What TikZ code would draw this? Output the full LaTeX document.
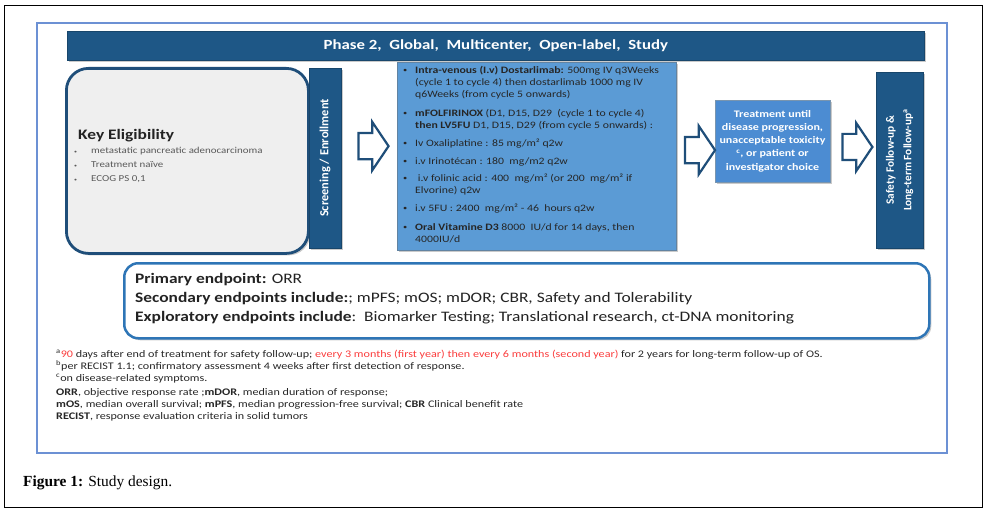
\documentclass[tikz,border=0pt]{standalone}
\usepackage{fontspec}
\setmainfont{Carlito}[FakeStretch=1.2]
\newfontfamily\plainfont{Carlito}
\newfontfamily\capfont{Liberation Serif}
\usetikzlibrary{shapes.arrows,shadows,calc}
\definecolor{dkblue}{RGB}{30,87,134}
\definecolor{frameblue}{RGB}{108,145,212}
\definecolor{midblue}{RGB}{91,155,213}
\definecolor{medblue}{RGB}{76,140,210}
\definecolor{edgeblue}{RGB}{46,117,182}
\definecolor{arrowblue}{RGB}{31,78,121}
\definecolor{ftred}{RGB}{250,60,60}
\definecolor{txtgray}{RGB}{35,35,35}
\definecolor{eliggray}{RGB}{239,239,239}
\newcommand{\bul}{\makebox[12pt][l]{\raisebox{0.5pt}{\scriptsize\textbullet}}}
\newcommand{\ind}{\hspace*{12pt}}
\newcommand{\kbul}{\makebox[17pt][l]{\raisebox{0.5pt}{\tiny\textbullet}}}
\tikzset{
  shad/.style={drop shadow={shadow xshift=2pt,shadow yshift=-2pt,opacity=0.35,fill=black!60}},
  barbox/.style={fill=dkblue,draw=dkblue!80!black,line width=0.6pt,shad},
  bartext/.style={text=white,font=\plainfont\bfseries\fontsize{12.4}{18}\selectfont,align=center},
  eligbox/.style={fill=eliggray,draw=arrowblue,line width=2.8pt,rounded corners=22pt,shad},
  treatbox/.style={fill=midblue,draw=arrowblue!70,line width=0.6pt,shad},
  untilbox/.style={fill=medblue,draw=arrowblue!60,line width=0.6pt,shad,text=white,
     font=\bfseries\fontsize{10}{13.2}\selectfont,align=center},
  endbox/.style={fill=white,draw=edgeblue,line width=2.5pt,rounded corners=14pt,shad},
  barrow/.style={single arrow,draw=arrowblue,fill=white,line width=2.2pt,
     minimum height=30pt,inner xsep=0pt,inner ysep=12pt,
     single arrow head extend=11pt,single arrow tip angle=112},
}
\begin{document}
\begin{tikzpicture}[x=1pt,y=-1pt]
\useasboundingbox (0,0) rectangle (987,513);
\draw[line width=1.2pt] (4.5,5.5) rectangle (982.5,507.5);
\draw[frameblue,line width=2.2pt] (37,23) rectangle (947,453);

% banner
\node[barbox,anchor=north west,minimum width=857pt,minimum height=29pt,inner sep=0pt,
  text=white,font=\bfseries\fontsize{14}{16}\selectfont] (banner) at (67,31)
  {Phase 2,\ \ Global,\ \ Multicenter,\ \ Open-label,\ \ Study};

% key eligibility
\node[eligbox,anchor=north west,minimum width=242pt,minimum height=185pt] (elig) at (65,67) {};
\node[anchor=west,inner sep=0pt,text=txtgray,font=\bfseries\fontsize{14.5}{18}\selectfont] (keyt) at (78,136) {Key Eligibility};
\node[anchor=north west,inner sep=0pt,align=left,text=black!65,
  font=\fontsize{9.1}{14}\selectfont] (keyb) at (74,147)
  {\kbul metastatic pancreatic adenocarcinoma\\\kbul Treatment naïve\\\kbul ECOG PS 0,1};

% screening bar
\node[barbox,minimum width=32pt,minimum height=180pt,inner sep=0pt] (scr) at (325,158) {};
\node[bartext,rotate=90] (scrt) at (scr.center) {Screening / Enrollment};

% treatment box
\node[treatbox,anchor=north west,minimum width=279pt,minimum height=188pt] (tx) at (397,62) {};
\node[anchor=north west,inner sep=0pt,align=left,text=black!85,
  font=\fontsize{9.8}{12}\selectfont] (txt) at (403,66)
  {\bul\textbf{Intra-venous (I.v) Dostarlimab:} 500mg IV q3Weeks\\
   \ind(cycle 1 to cycle 4) then dostarlimab 1000 mg IV\\
   \ind q6Weeks (from cycle 5 onwards)\\[7pt]
   \bul\textbf{mFOLFIRINOX} (D1, D15, D29\ \ (cycle 1 to cycle 4)\\
   \ind\textbf{then LV5FU} D1, D15, D29 (from cycle 5 onwards) :\\[6pt]
   \bul Iv Oxaliplatine : 85 mg/m² q2w\\[6pt]
   \bul i.v Irinotécan : 180\ \ mg/m2 q2w\\[5pt]
   \bul\ i.v folinic acid : 400\ \ mg/m² (or 200\ \ mg/m² if\\
   \ind Elvorine) q2w\\[6pt]
   \bul i.v 5FU : 2400\ \ mg/m² - 46\ \ hours q2w\\[7pt]
   \bul\textbf{Oral Vitamine D3} 8000\ \ IU/d for 14 days, then\\
   \ind 4000IU/d};

% treatment until
\node[untilbox,minimum width=115pt,minimum height=82pt,inner sep=0pt] (until) at (772.5,141)
  {Treatment until\\disease progression,\\unacceptable toxicity\\\textsuperscript{c}, or patient or\\investigator choice};

% safety bar
\node[barbox,minimum width=47pt,minimum height=176pt,inner sep=0pt] (saf) at (899.5,160) {};
\node[bartext,rotate=90,font=\plainfont\bfseries\fontsize{11.3}{17.5}\selectfont] (saft) at (saf.center)
  {Safety Follow-up \&\\Long-term Follow-up\textsuperscript{a}};

% block arrows
\node[barrow,yshift=11pt] (a1) at ($(scr.east)!0.5!(tx.west)$) {};
\node[barrow,yshift=-1.5pt] (a2) at ($(tx.east)!0.5!(until.west)$) {};
\node[barrow,yshift=3.5pt] (a3) at ($(until.east)!0.5!(saf.west)$) {};

% endpoints
\node[endbox,anchor=north west,minimum width=805pt,minimum height=75pt] (ep) at (123,262) {};
\node[anchor=north west,inner sep=0pt,align=left,text=txtgray,
  font=\fontsize{14.5}{19}\selectfont] (ept) at (135,273)
  {\textbf{Primary endpoint:} ORR\\
   \textbf{Secondary endpoints include:}; mPFS; mOS; mDOR; CBR, Safety and Tolerability\\
   \textbf{Exploratory endpoints include}:\ \ Biomarker Testing; Translational research,\ ct-DNA monitoring};

% footnotes
\node[anchor=north west,inner sep=0pt,align=left,text=black!85,
  font=\fontsize{10.1}{12}\selectfont] (fn) at (56,350)
  {\textsuperscript{a}{\color{ftred}90} days after end of treatment for safety follow-up; {\color{ftred}every 3 months (first year) then every 6 months (second year)} for 2 years for long-term follow-up of OS.\\
   \textsuperscript{b}per RECIST 1.1; confirmatory assessment 4 weeks after first detection of response.\\
   \textsuperscript{c}on disease-related symptoms.\\[2pt]
   \textbf{ORR}, objective response rate ;\textbf{mDOR}, median duration of response;\\
   \textbf{mOS}, median overall survival; \textbf{mPFS}, median progression-free survival; \textbf{CBR} Clinical benefit rate\\
   \textbf{RECIST}, response evaluation criteria in solid tumors};

% caption
\node[anchor=west,inner sep=0pt,font=\capfont\fontsize{15.4}{17}\selectfont] (cap) at (23,483)
  {\textbf{Figure 1:} Study design.};
\end{tikzpicture}
\end{document}
